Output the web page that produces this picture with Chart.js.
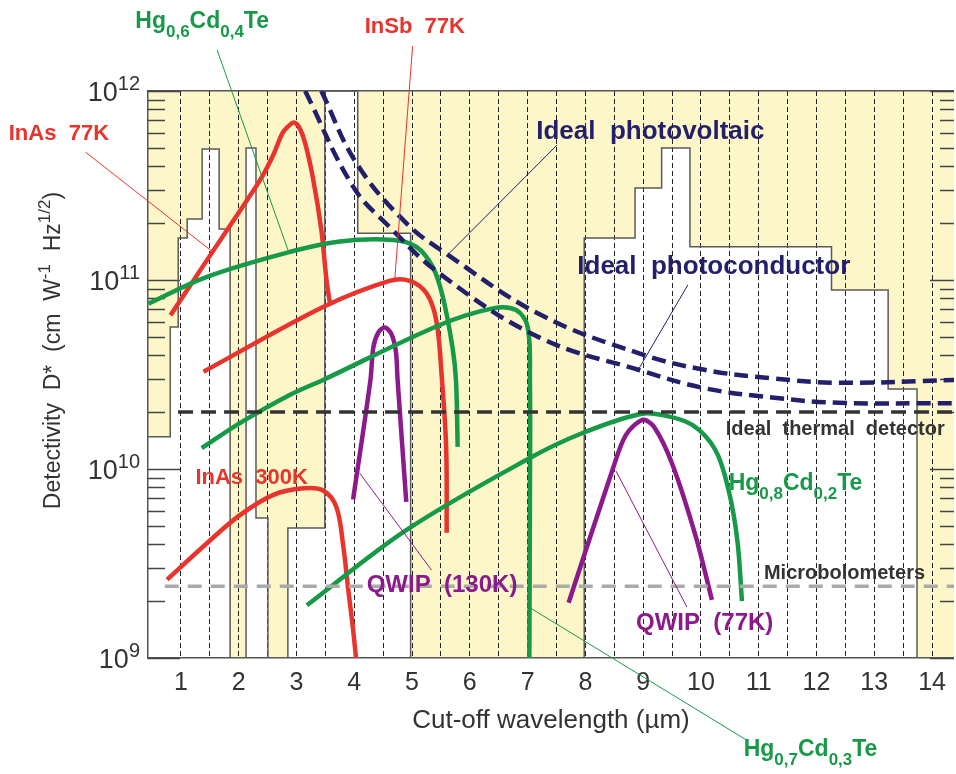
<!DOCTYPE html>
<html>
<head>
<meta charset="utf-8">
<script src="https://cdn.jsdelivr.net/npm/chart.js@4.4.0/dist/chart.umd.min.js"></script>
<style>
  html, body { margin: 0; padding: 0; background: #fff; }
  canvas { display: block; }
</style>
</head>
<body>
<canvas id="chart" width="956" height="774"></canvas>
<script>
// background: step edges (µm) and top of the white (transmitting) area
var windowEdge = [0.43, 0.815, 0.953, 1.108, 1.367, 1.661, 1.851, 2.127, 2.299, 2.506, 2.851, 3.49, 4.06, 4.975, 7.98, 8.86, 9.32, 9.81, 12.26, 13.24, 13.74, 14.38];
var windowTop  = [1.48e10, 5.64e10, 1.67e11, 2.10e11, 4.93e11, 1.86e11, 1e9, 5.0e11, 5.5e9, 1e9, 4.88e9, 1e12, 1.77e11, 1e9, 1.67e11, 3.07e11, 5.0e11, 1.50e11, 8.85e10, 2.65e10, 1e9, 1e9];

// detector curves: cut-off wavelength (µm) and detectivity
var inas77Wl = [0.82, 1.54, 2.11, 2.40, 2.60, 2.76, 2.88, 2.96, 3.05, 3.15, 3.29, 3.43, 3.52, 3.58];
var inas77D  = [6.5e10, 1.4e11, 2.55e11, 3.5e11, 4.6e11, 6.0e11, 6.6e11, 6.8e11, 6.4e11, 5.3e11, 3.4e11, 1.84e11, 1.0e11, 7.5e10];

var hg06Wl = [0.44, 1.45, 2.89, 3.75, 4.67, 5.07, 5.36, 5.53, 5.70, 5.76, 5.79];
var hg06D  = [7.5e10, 1.04e11, 1.41e11, 1.6e11, 1.63e11, 1.5e11, 1.17e11, 8.2e10, 4.4e10, 2.96e10, 1.31e10];

var insbWl = [1.39, 3.46, 4.61, 4.96, 5.25, 5.42, 5.51, 5.59, 5.60];
var insbD  = [3.27e10, 7.2e10, 9.9e10, 9.9e10, 8.5e10, 6.1e10, 3.2e10, 1.31e10, 4.6e9];

var hg07Wl = [1.36, 2.02, 2.89, 3.46, 5.48, 6.40, 6.80, 7.00, 7.04, 7.04, 7.03];
var hg07D  = [1.29e10, 1.75e10, 2.47e10, 2.96e10, 5.78e10, 7.08e10, 6.93e10, 5.66e10, 2.96e10, 6.9e9, 1e9];

var hg08Wl = [3.18, 4.90, 7.03, 7.95, 8.93, 9.33, 9.85, 10.25, 10.48, 10.63, 10.71];
var hg08D  = [1.9e9, 4.75e9, 1.14e10, 1.55e10, 1.95e10, 1.93e10, 1.71e10, 1.26e10, 7.7e9, 4.2e9, 2.0e9];

var inas300Wl = [0.76, 1.45, 2.02, 2.60, 3.12, 3.46, 3.69, 3.81, 3.89, 3.98, 4.03];
var inas300D  = [2.6e9, 4.05e9, 5.7e9, 7.3e9, 7.9e9, 7.7e9, 6.3e9, 3.9e9, 2.38e9, 1.41e9, 1.0e9];

var qwip130Wl = [3.98, 4.28, 4.33, 4.42, 4.53, 4.64, 4.72, 4.75, 4.90];
var qwip130D  = [6.9e9, 2.96e10, 4.4e10, 5.3e10, 5.6e10, 5.2e10, 4.2e10, 2.96e10, 6.7e9];

var qwip77Wl = [7.71, 8.47, 8.70, 8.99, 9.19, 9.50, 9.91, 10.19];
var qwip77D  = [1.96e9, 9.9e9, 1.51e10, 1.82e10, 1.67e10, 1.07e10, 4.4e9, 2.03e9];

var pvWl = [3.43, 4.04, 4.90, 5.59, 7.20, 8.93, 10.08, 11.23, 12.38, 14.38];
var pvD  = [1.0e12, 4.14e11, 2.0e11, 1.38e11, 6.6e10, 4.09e10, 3.34e10, 3.02e10, 2.86e10, 2.96e10];

var pcWl = [3.15, 3.98, 4.61, 5.48, 7.20, 8.93, 10.08, 11.23, 12.38, 14.38];
var pcD  = [1.0e12, 3.12e11, 1.91e11, 1.08e11, 4.97e10, 3.34e10, 2.67e10, 2.39e10, 2.24e10, 2.23e10];

var thermalWl = [0.95, 14.38];
var thermalD  = [2.0e10, 2.0e10];
var bolometerWl = [0.72, 14.38];
var bolometerD  = [2.4e9, 2.4e9];

// axes
var decadeExp = [9, 10, 11, 12];
var xLabels = [1, 2, 3, 4, 5, 6, 7, 8, 9, 10, 11, 12, 13, 14];

var RED = '#e8342c', GREEN = '#169a48', PURPLE = '#8c1a8c', NAVY = '#231f6b', DARK = '#333333';
var FONT = '"Liberation Sans", Arial, sans-serif';

// text notes, placed in data coordinates; part mode 1 = subscript, 2 = superscript
var notes = [
  { parts: [['InAs  77K']], x: -1.98, y: 5.5e11, color: RED, size: 22 },
  { parts: [['Hg'], ['0,6', 1], ['Cd'], ['0,4', 1], ['Te']], x: 0.21, y: 2.15e12, color: GREEN, size: 23 },
  { parts: [['InSb  77K']], x: 4.18, y: 2.02e12, color: RED, size: 22 },
  { parts: [['Ideal  photovoltaic']], x: 7.15, y: 5.55e11, color: NAVY, size: 26 },
  { parts: [['Ideal  photoconductor']], x: 7.86, y: 1.08e11, color: NAVY, size: 26 },
  { parts: [['Ideal  thermal  detector']], x: 10.43, y: 1.51e10, color: DARK, size: 20 },
  { parts: [['Microbolometers']], x: 11.09, y: 2.62e9, color: DARK, size: 20 },
  { parts: [['Hg'], ['0,8', 1], ['Cd'], ['0,2', 1], ['Te']], x: 10.48, y: 7.74e9, color: GREEN, size: 23 },
  { parts: [['InAs  300K']], x: 1.25, y: 8.34e9, color: RED, size: 22 },
  { parts: [['QWIP  (130K)']], x: 4.215, y: 2.24e9, color: PURPLE, size: 24 },
  { parts: [['QWIP  (77K)']], x: 8.876, y: 1.41e9, color: PURPLE, size: 24 },
  { parts: [['Hg'], ['0,7', 1], ['Cd'], ['0,3', 1], ['Te']], x: 10.74, y: 3.03e8, color: GREEN, size: 23 }
];

var leaders = [
  { from: [-0.652, 4.75e11], to: [1.535, 1.42e11], color: RED },
  { from: [1.626, 1.65e12], to: [2.853, 1.44e11], color: GREEN },
  { from: [5.01, 1.73e12], to: [4.70, 1.0e11], color: RED },
  { from: [7.51, 5.18e11], to: [5.597, 1.34e11], color: NAVY },
  { from: [9.774, 9.42e10], to: [8.893, 3.26e10], color: NAVY },
  { from: [5.337, 2.92e9], to: [4.094, 9.5e9], color: PURPLE },
  { from: [9.757, 1.86e9], to: [8.531, 9.75e9], color: PURPLE },
  { from: [10.79, 3.68e8], to: [6.996, 1.88e9], color: GREEN }
];

function pts(xs, ys) {
  return xs.map(function (x, i) { return { x: x, y: ys[i] }; });
}

function isDecade(v) {
  var e = Math.log10(v);
  return Math.abs(e - Math.round(e)) < 1e-9;
}

function curve(xs, ys, color, width, dash, tension) {
  return {
    data: pts(xs, ys),
    borderColor: color,
    borderWidth: width,
    borderDash: dash || [],
    pointRadius: 0,
    tension: tension,
    fill: false
  };
}

function partFont(size, mode, weight) {
  var s = mode ? size * 0.74 : size;
  return weight + ' ' + s.toFixed(1) + 'px ' + FONT;
}

function richWidth(ctx, parts, size, weight) {
  var w = 0;
  parts.forEach(function (p) {
    ctx.font = partFont(size, p[1] || 0, weight);
    w += ctx.measureText(p[0]).width;
  });
  return w;
}

function drawRich(ctx, x, y, parts, size, weight) {
  parts.forEach(function (p) {
    var mode = p[1] || 0;
    var dy = mode === 1 ? size * 0.37 : (mode === 2 ? -size * 0.42 : 0);
    ctx.font = partFont(size, mode, weight);
    ctx.fillText(p[0], x, y + dy);
    x += ctx.measureText(p[0]).width;
  });
}

var yTickValues = [];
decadeExp.forEach(function (e) {
  var m = e < 12 ? [1, 2, 3, 4, 5, 6, 7, 8, 9] : [1];
  m.forEach(function (k) { yTickValues.push(k * Math.pow(10, e)); });
});
var xGridValues = [];
for (var g = 1; g <= 14; g += 0.5) xGridValues.push(g);

var decor = {
  id: 'decor',
  beforeDatasetsDraw: function (chart) {
    var ctx = chart.ctx, y = chart.scales.y, a = chart.chartArea;
    ctx.save();
    ctx.strokeStyle = '#444';
    ctx.lineWidth = 1.5;
    yTickValues.forEach(function (v) {
      var py = Math.round(y.getPixelForValue(v)) + 0.5;
      var major = isDecade(v);
      ctx.beginPath();
      ctx.moveTo(a.left, py);
      ctx.lineTo(a.left + (major ? 32 : 17), py);
      ctx.moveTo(a.right, py);
      ctx.lineTo(a.right - (major ? 24 : 14), py);
      ctx.stroke();
    });
    ctx.restore();
  },
  afterDatasetsDraw: function (chart) {
    var ctx = chart.ctx, xs = chart.scales.x, ys = chart.scales.y;
    ctx.save();
    ctx.lineWidth = 1;
    leaders.forEach(function (l) {
      ctx.strokeStyle = l.color;
      ctx.beginPath();
      ctx.moveTo(xs.getPixelForValue(l.from[0]), ys.getPixelForValue(l.from[1]));
      ctx.lineTo(xs.getPixelForValue(l.to[0]), ys.getPixelForValue(l.to[1]));
      ctx.stroke();
    });
    ctx.textBaseline = 'alphabetic';
    ctx.textAlign = 'left';
    notes.forEach(function (n) {
      ctx.fillStyle = n.color;
      drawRich(ctx, xs.getPixelForValue(n.x), ys.getPixelForValue(n.y), n.parts, n.size, 'bold');
    });

    // y tick labels 10^n
    ctx.fillStyle = DARK;
    decadeExp.forEach(function (e) {
      var parts = [['10'], [String(e), 2]];
      var py = ys.getPixelForValue(Math.pow(10, e));
      var w = richWidth(ctx, parts, 27, 'normal');
      drawRich(ctx, 140 - w, py + 10, parts, 27, 'normal');
    });

    // y axis title
    var tparts = [['Detectivity  D*  (cm  W'], ['-1', 2], ['  Hz'], ['1/2', 2], [')']];
    var tw = richWidth(ctx, tparts, 23, 'normal');
    ctx.translate(52, (chart.chartArea.top + chart.chartArea.bottom) / 2 - 24);
    ctx.rotate(-Math.PI / 2);
    drawRich(ctx, -tw / 2, 8, tparts, 23, 'normal');
    ctx.restore();
  }
};

Chart.defaults.font.family = FONT;
Chart.defaults.color = DARK;

new Chart(document.getElementById('chart').getContext('2d'), {
  type: 'line',
  data: {
    datasets: [
      {
        data: pts(windowEdge, windowTop),
        stepped: true,
        borderColor: '#5a5a5a',
        borderWidth: 1.5,
        pointRadius: 0,
        fill: { target: 'end' },
        backgroundColor: '#fcf6c8',
        order: 10
      },
      curve(thermalWl, thermalD, '#333333', 3.5, [15, 8], 0),
      curve(bolometerWl, bolometerD, '#aaaaaa', 3.5, [14, 9], 0),
      curve(pvWl, pvD, NAVY, 4.5, [14, 7], 0.4),
      curve(pcWl, pcD, NAVY, 4.5, [14, 7], 0.4),
      curve(hg06Wl, hg06D, GREEN, 4.5, null, 0.35),
      curve(hg07Wl, hg07D, GREEN, 4.5, null, 0.35),
      curve(hg08Wl, hg08D, GREEN, 4.5, null, 0.35),
      curve(inas77Wl, inas77D, RED, 4.5, null, 0.35),
      curve(insbWl, insbD, RED, 4.5, null, 0.35),
      curve(inas300Wl, inas300D, RED, 4.5, null, 0.35),
      curve(qwip130Wl, qwip130D, PURPLE, 4.5, null, 0.3),
      curve(qwip77Wl, qwip77D, PURPLE, 4.5, null, 0.3)
    ]
  },
  options: {
    responsive: false,
    animation: false,
    devicePixelRatio: 1,
    layout: { padding: { top: 91, right: 0, left: 0, bottom: 0 } },
    plugins: {
      legend: { display: false },
      tooltip: { enabled: false },
      filler: { drawTime: 'beforeDraw' }
    },
    scales: {
      x: {
        type: 'linear',
        min: 0.43,
        max: 14.38,
        afterBuildTicks: function (s) {
          s.ticks = xGridValues.map(function (v) { return { value: v }; });
        },
        afterFit: function (s) { s.height = 116; },
        ticks: {
          autoSkip: false,
          maxRotation: 0,
          padding: 10,
          font: { size: 25 },
          color: DARK,
          callback: function (v) { return xLabels.indexOf(v) >= 0 ? String(v) : ''; }
        },
        grid: { color: '#222', lineWidth: 1, drawTicks: false },
        border: { display: true, color: '#555', width: 1.5, dash: [5, 3] },
        title: {
          display: true,
          text: 'Cut-off wavelength (µm)',
          font: { size: 26 },
          color: DARK,
          padding: { top: 0, bottom: 38 }
        }
      },
      x2: {
        type: 'linear',
        position: 'top',
        min: 0.43,
        max: 14.38,
        afterFit: function (s) { s.height = 0; },
        ticks: { display: false },
        grid: { display: false, drawTicks: false },
        border: { display: true, color: '#555', width: 1.5 }
      },
      y: {
        type: 'logarithmic',
        min: 1e9,
        max: 1e12,
        afterBuildTicks: function (s) {
          s.ticks = yTickValues.map(function (v) { return { value: v, major: isDecade(v) }; });
        },
        afterFit: function (s) { s.width = 148; },
        ticks: { display: false },
        grid: { display: false, drawTicks: false },
        border: { display: true, color: '#555', width: 1.5 }
      }
    }
  },
  plugins: [decor]
});
</script>
</body>
</html>
